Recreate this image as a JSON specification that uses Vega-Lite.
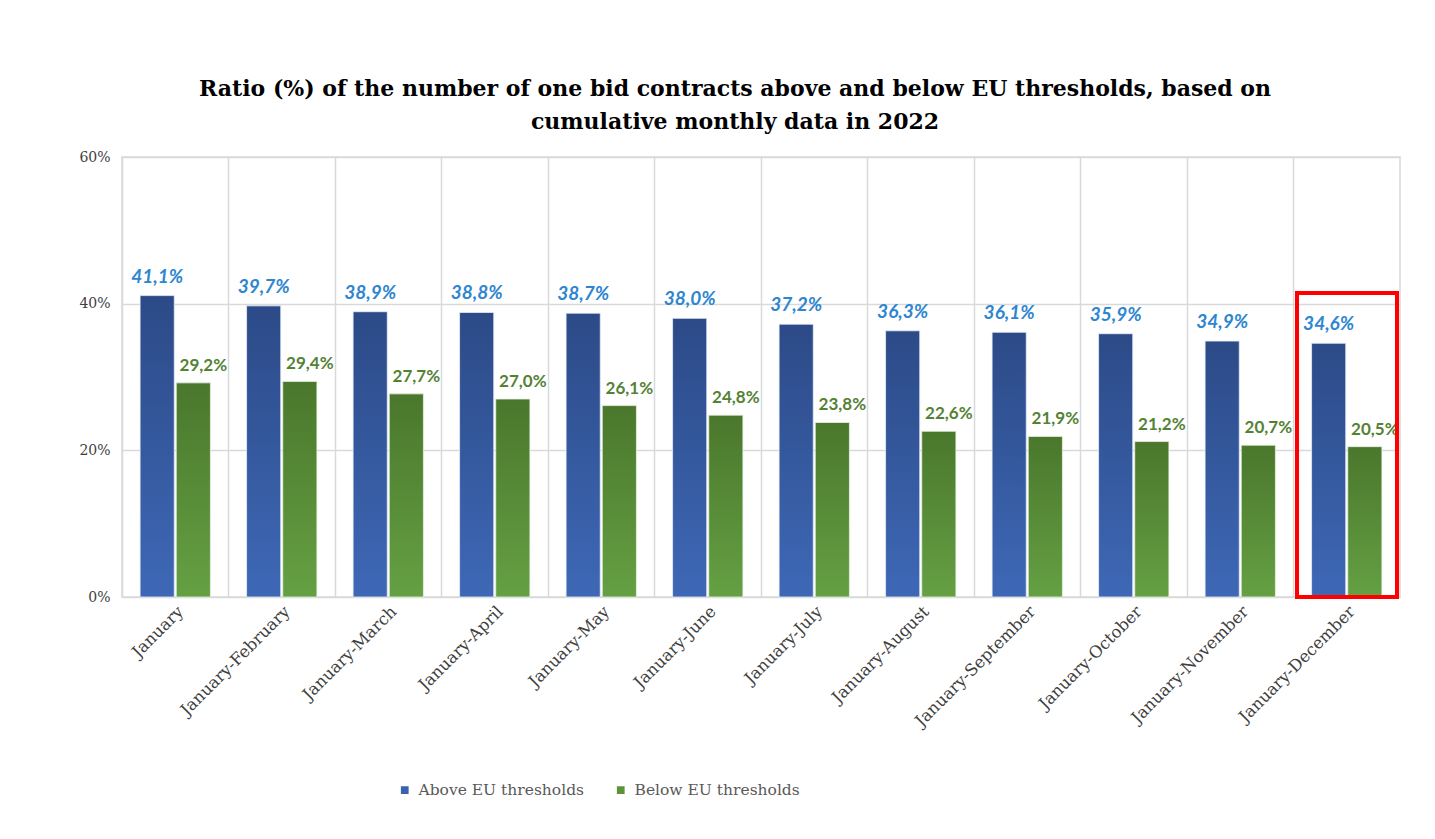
{
  "$schema": "https://vega.github.io/schema/vega-lite/v6.json",
  "width": 1278,
  "height": 440,
  "autosize": {"type": "none"},
  "padding": {"left": 122, "top": 157, "right": 35, "bottom": 242},
  "background": "white",
  "title": {
    "text": ["Ratio (%) of the number of one bid contracts above and below EU thresholds, based on", "cumulative monthly data in 2022"],
    "font": "DejaVu Serif",
    "fontSize": 22,
    "fontWeight": "bold",
    "color": "#000000",
    "lineHeight": 33,
    "anchor": "middle",
    "dx": -26,
    "offset": 16
  },
  "config": {
    "locale": {"number": {"decimal": ",", "thousands": ".", "grouping": [3], "currency": ["", " €"]}},
    "view": {"stroke": "#d9d9d9", "strokeWidth": 1.5}
  },
  "data": {
    "values": [
      {"period": "January", "series": "Above EU thresholds", "value": 0.411},
      {"period": "January", "series": "Below EU thresholds", "value": 0.292},
      {"period": "January-February", "series": "Above EU thresholds", "value": 0.397},
      {"period": "January-February", "series": "Below EU thresholds", "value": 0.294},
      {"period": "January-March", "series": "Above EU thresholds", "value": 0.389},
      {"period": "January-March", "series": "Below EU thresholds", "value": 0.277},
      {"period": "January-April", "series": "Above EU thresholds", "value": 0.388},
      {"period": "January-April", "series": "Below EU thresholds", "value": 0.270},
      {"period": "January-May", "series": "Above EU thresholds", "value": 0.387},
      {"period": "January-May", "series": "Below EU thresholds", "value": 0.261},
      {"period": "January-June", "series": "Above EU thresholds", "value": 0.380},
      {"period": "January-June", "series": "Below EU thresholds", "value": 0.248},
      {"period": "January-July", "series": "Above EU thresholds", "value": 0.372},
      {"period": "January-July", "series": "Below EU thresholds", "value": 0.238},
      {"period": "January-August", "series": "Above EU thresholds", "value": 0.363},
      {"period": "January-August", "series": "Below EU thresholds", "value": 0.226},
      {"period": "January-September", "series": "Above EU thresholds", "value": 0.361},
      {"period": "January-September", "series": "Below EU thresholds", "value": 0.219},
      {"period": "January-October", "series": "Above EU thresholds", "value": 0.359},
      {"period": "January-October", "series": "Below EU thresholds", "value": 0.212},
      {"period": "January-November", "series": "Above EU thresholds", "value": 0.349},
      {"period": "January-November", "series": "Below EU thresholds", "value": 0.207},
      {"period": "January-December", "series": "Above EU thresholds", "value": 0.346},
      {"period": "January-December", "series": "Below EU thresholds", "value": 0.205}
    ]
  },
  "encoding": {
    "x": {
      "field": "period",
      "type": "nominal",
      "sort": null,
      "scale": {"paddingInner": 0, "paddingOuter": 0},
      "axis": {
        "title": null,
        "labelAngle": -45,
        "labelFont": "DejaVu Serif",
        "labelFontSize": 16.5,
        "labelColor": "#404040",
        "labelPadding": 6,
        "labelLimit": 300,
        "ticks": false,
        "domain": false,
        "grid": true,
        "gridColor": "#d9d9d9",
        "gridWidth": 1.5,
        "bandPosition": 0
      }
    },
    "xOffset": {
      "field": "series",
      "type": "nominal",
      "scale": {"domain": ["Above EU thresholds", "Below EU thresholds"], "paddingInner": 0.055, "paddingOuter": 0.5}
    },
    "y": {
      "field": "value",
      "type": "quantitative",
      "scale": {"domain": [0, 0.6], "nice": false},
      "axis": {
        "title": null,
        "values": [0, 0.2, 0.4, 0.6],
        "format": ".0%",
        "labelFont": "DejaVu Serif",
        "labelFontSize": 14,
        "labelColor": "#404040",
        "labelPadding": 12,
        "ticks": false,
        "domain": false,
        "gridColor": "#d9d9d9",
        "gridWidth": 1.5
      }
    }
  },
  "layer": [
    {
      "transform": [{"filter": "datum.series === 'Above EU thresholds'"}],
      "mark": {
        "type": "bar",
        "stroke": "#e8eef8",
        "strokeWidth": 0.8,
        "fill": {"gradient": "linear", "x1": 0, "y1": 0, "x2": 0, "y2": 1, "stops": [{"offset": 0, "color": "#2c4a87"}, {"offset": 1, "color": "#3e68b6"}]}
      }
    },
    {
      "transform": [{"filter": "datum.series === 'Below EU thresholds'"}],
      "mark": {
        "type": "bar",
        "stroke": "#e8f2e2",
        "strokeWidth": 0.8,
        "fill": {"gradient": "linear", "x1": 0, "y1": 0, "x2": 0, "y2": 1, "stops": [{"offset": 0, "color": "#4a772c"}, {"offset": 1, "color": "#65a043"}]}
      }
    },
    {
      "transform": [{"filter": "datum.series === 'Above EU thresholds'"}],
      "mark": {"type": "text", "font": "Lato", "fontSize": 19, "fontWeight": "bold", "fontStyle": "italic", "color": "#2e86d0", "baseline": "bottom", "dy": -9},
      "encoding": {"text": {"field": "value", "type": "quantitative", "format": ".1%"}}
    },
    {
      "transform": [{"filter": "datum.series === 'Below EU thresholds'"}],
      "mark": {"type": "text", "font": "Lato", "fontSize": 17, "fontWeight": "bold", "color": "#548235", "baseline": "bottom", "dy": -8, "dx": 10},
      "encoding": {"text": {"field": "value", "type": "quantitative", "format": ".1%"}}
    },
    {
      "mark": {"type": "bar", "opacity": 0},
      "encoding": {
        "color": {
          "field": "series",
          "type": "nominal",
          "scale": {"domain": ["Above EU thresholds", "Below EU thresholds"], "range": ["#3a62ad", "#5a9339"]},
          "legend": {
            "title": null,
            "orient": "none",
            "direction": "horizontal",
            "legendX": 275,
            "legendY": 625,
            "symbolType": "square",
            "symbolSize": 60,
            "symbolOpacity": 1,
            "symbolStrokeWidth": 0,
            "labelFont": "DejaVu Serif",
            "labelFontSize": 15.5,
            "labelLimit": 400,
            "labelColor": "#595959",
            "labelOffset": 6,
            "columnPadding": 28
          }
        }
      }
    },
    {
      "mark": {"type": "bar", "filled": false, "fill": null, "stroke": "#ff0000", "strokeWidth": 3, "width": {"band": 0.94}},
      "encoding": {
        "x": {"datum": "January-December"},
        "xOffset": null,
        "y": {"datum": 0},
        "y2": {"datum": 0.415}
      }
    }
  ]
}
